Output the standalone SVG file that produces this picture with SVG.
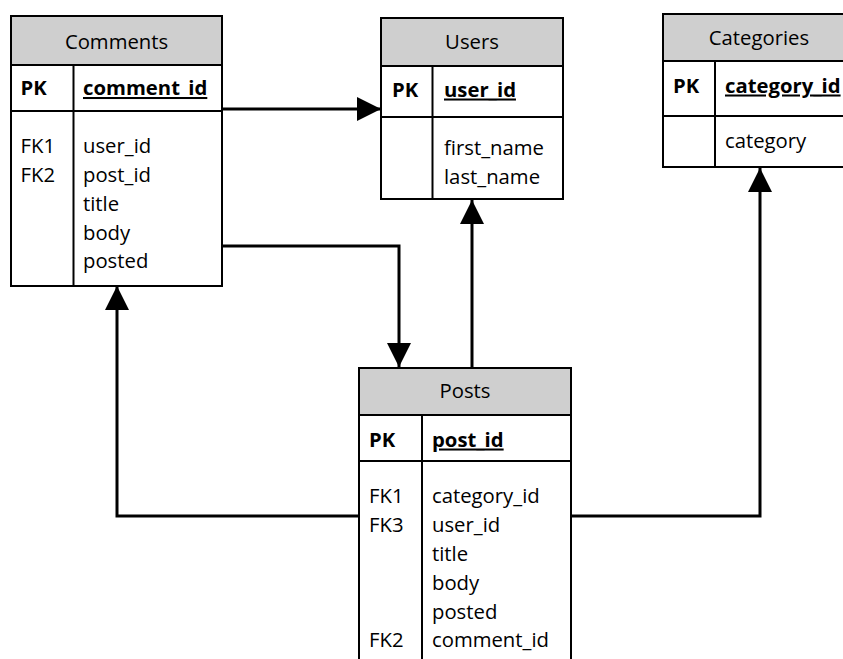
<svg xmlns="http://www.w3.org/2000/svg" width="843" height="659" viewBox="0 0 843 659">
<defs>
<style>
.box{fill:#fff;stroke:#000;stroke-width:2}
.hdr{fill:#cfcfcf;stroke:#000;stroke-width:2}
.ln{stroke:#000;stroke-width:2;fill:none}
.t{font-family:"Open Sans","Noto Sans",sans-serif;font-size:20.3px;fill:#000}
.h{text-anchor:middle}
.b{font-weight:bold}
.u{text-decoration:underline}
.conn{stroke:#000;stroke-width:3;fill:none}
</style>
<marker id="arr" viewBox="0 0 24 24" refX="24" refY="12" markerWidth="24" markerHeight="24" markerUnits="userSpaceOnUse" orient="auto">
<path d="M0,0 L24,12 L0,24 Z" fill="#000"/>
</marker>
</defs>
<g id="connectors">
<path class="conn" d="M222,109 H381" marker-end="url(#arr)"/>
<path class="conn" d="M222,246 H399 V367" marker-end="url(#arr)"/>
<path class="conn" d="M472,368 V200" marker-end="url(#arr)"/>
<path class="conn" d="M359,516 H117 V286" marker-end="url(#arr)"/>
<path class="conn" d="M571,516 H760 V168" marker-end="url(#arr)"/>
</g>
<g id="comments">
<rect class="hdr" x="11" y="16" width="211" height="49"/>
<rect class="box" x="11" y="65" width="211" height="46"/>
<rect class="box" x="11" y="111" width="211" height="175"/>
<line class="ln" x1="73.5" y1="65" x2="73.5" y2="286"/>
<text class="t h" x="116.5" y="49">Comments</text>
<text class="t b" x="20.5" y="95">PK</text>
<text class="t b u" x="83" y="95">comment_id</text>
<text class="t" x="20.5" y="152.5">FK1</text>
<text class="t" x="20.5" y="181.5">FK2</text>
<text class="t" x="83" y="152.5">user_id</text>
<text class="t" x="83" y="181.5">post_id</text>
<text class="t" x="83" y="210.5">title</text>
<text class="t" x="83" y="239.5">body</text>
<text class="t" x="83" y="268">posted</text>
</g>
<g id="users">
<rect class="hdr" x="381" y="18" width="182" height="48"/>
<rect class="box" x="381" y="66" width="182" height="51"/>
<rect class="box" x="381" y="117" width="182" height="82"/>
<line class="ln" x1="432.5" y1="66" x2="432.5" y2="199"/>
<text class="t h" x="472" y="49">Users</text>
<text class="t b" x="392" y="96.5">PK</text>
<text class="t b u" x="444" y="96.5">user_id</text>
<text class="t" x="444" y="155">first_name</text>
<text class="t" x="444" y="184">last_name</text>
</g>
<g id="categories">
<rect class="hdr" x="663" y="14" width="192" height="47"/>
<rect class="box" x="663" y="61" width="192" height="55"/>
<rect class="box" x="663" y="116" width="192" height="51"/>
<line class="ln" x1="715" y1="61" x2="715" y2="167"/>
<text class="t h" x="759" y="45">Categories</text>
<text class="t b" x="673" y="92.5">PK</text>
<text class="t b u" x="725" y="92.5">category_id</text>
<text class="t" x="725" y="148">category</text>
</g>
<g id="posts">
<rect class="hdr" x="359" y="368" width="212" height="47"/>
<rect class="box" x="359" y="415" width="212" height="46"/>
<rect class="box" x="359" y="461" width="212" height="210"/>
<line class="ln" x1="422" y1="415" x2="422" y2="671"/>
<text class="t h" x="465" y="398">Posts</text>
<text class="t b" x="369" y="446.5">PK</text>
<text class="t b u" x="432" y="446.5">post_id</text>
<text class="t" x="369" y="503">FK1</text>
<text class="t" x="369" y="532">FK3</text>
<text class="t" x="369" y="647">FK2</text>
<text class="t" x="432" y="503">category_id</text>
<text class="t" x="432" y="532">user_id</text>
<text class="t" x="432" y="561">title</text>
<text class="t" x="432" y="590">body</text>
<text class="t" x="432" y="618.5">posted</text>
<text class="t" x="432" y="647">comment_id</text>
</g>
</svg>
